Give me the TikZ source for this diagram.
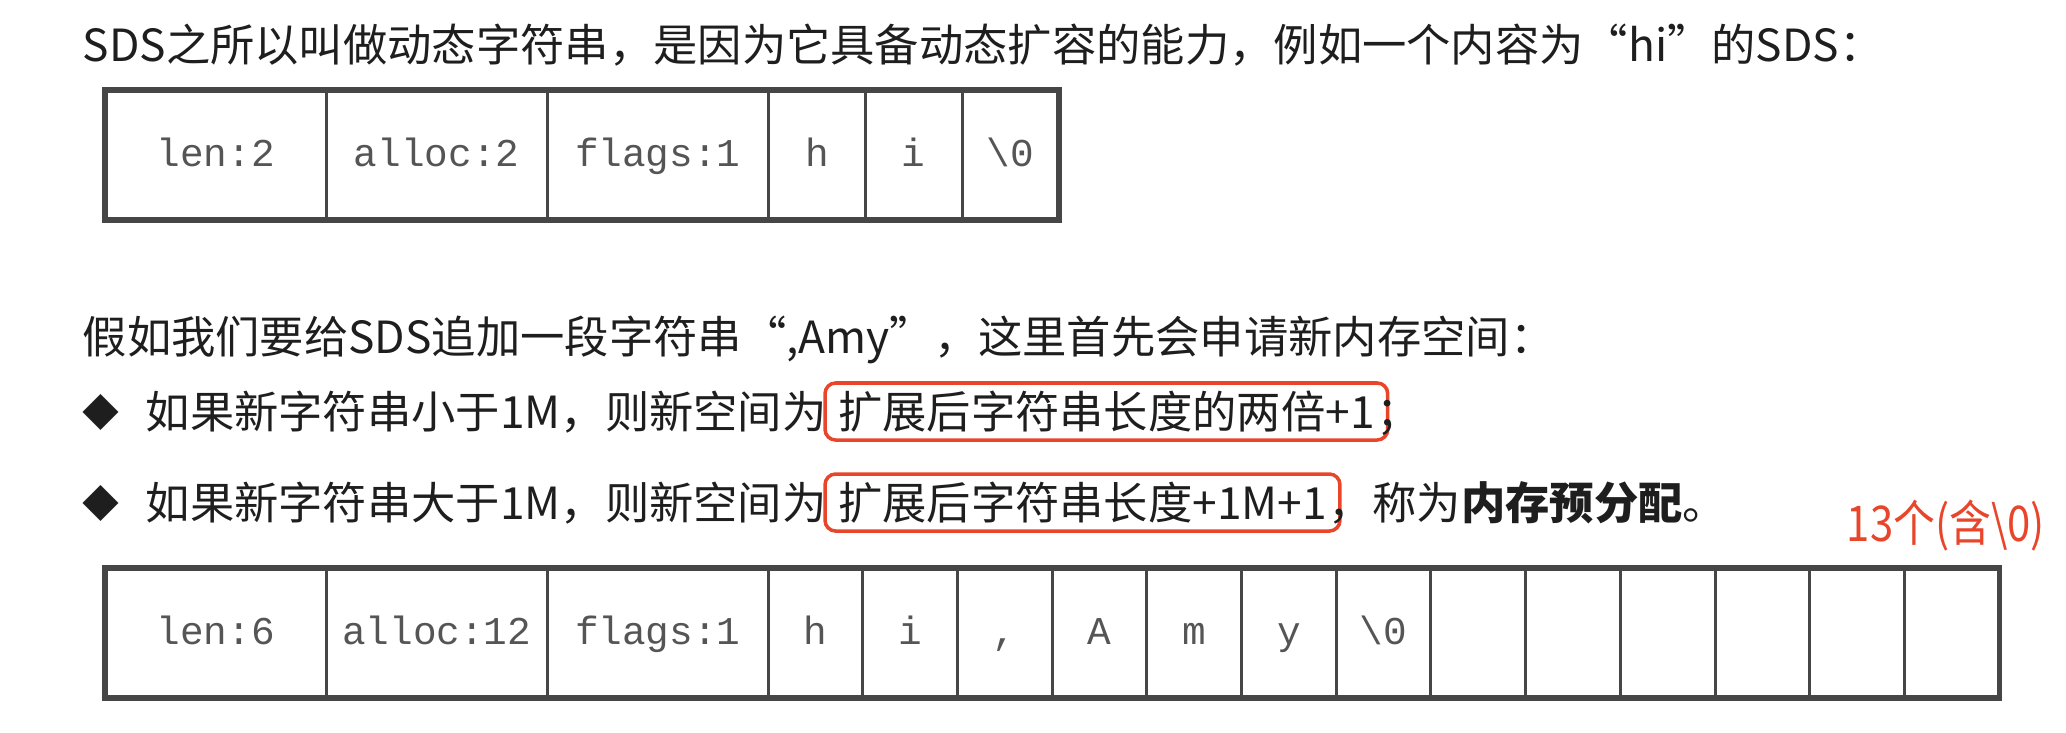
\documentclass[tikz,border=0pt]{standalone}
\usepackage{fontspec}
\setmainfont{Noto Sans CJK SC}
\newfontfamily\cellfont{Liberation Mono}
\usepackage{tikz}
\usetikzlibrary{positioning}

\definecolor{inkgray}{HTML}{1E1E1E}
\definecolor{linegray}{HTML}{464646}
\definecolor{cellgray}{HTML}{555555}
\definecolor{markred}{HTML}{E8452A}

\begin{document}
\begin{tikzpicture}[x=0.01cm,y=-0.01cm,
  para/.style={inner sep=0pt,text=inkgray,font=\fontsize{12.6pt}{15pt}\selectfont},
  fieldcell/.style={draw=linegray,line width=0.85pt,outer sep=0pt,inner sep=0pt,
    minimum width=2.21cm,minimum height=1.3cm,anchor=north west,text=cellgray,
    font=\cellfont\fontsize{11.2pt}{13pt}\selectfont,text height=1.6ex,text depth=0.4ex},
  charcell/.style={fieldcell,minimum width=0.947cm},
  frame/.style={draw=linegray,line width=1.5pt},
  keybox/.style={para,draw=markred,line width=1pt,rounded corners=3pt,
    inner xsep=0.13cm,minimum height=0.57cm,anchor=base west,xshift=-0.04cm}]
\useasboundingbox (0,0) rectangle (2066,732);
% first paragraph and the "hi" record
\node[para,anchor=west] (intro) at (82,45)
  {SDS之所以叫做动态字符串，是因为它具备动态扩容的能力，例如一个内容为“hi”的SDS：};
\node[fieldcell] (tlen) at (105,90) {len:2};
\node[fieldcell,right=0pt of tlen] (talloc) {alloc:2};
\node[fieldcell,right=0pt of talloc] (tflags) {flags:1};
\node[charcell,minimum width=0.968cm,right=0pt of tflags] (tch1) {h};
\node[charcell,minimum width=0.968cm,right=0pt of tch1] (tch2) {i};
\node[charcell,minimum width=0.968cm,right=0pt of tch2] (tch3) {\textbackslash 0};
\draw[frame] (tlen.north west) rectangle (tch3.south east);

% second paragraph and the two rules
\node[para,anchor=west] (append) at (82,340)
  {假如我们要给SDS追加一段字符串“,Amy”，这里首先会申请新内存空间：};
\node[para,font=\fontsize{10.5pt}{12pt}\selectfont] (dot1) at (101,412) {◆};
\node[para,anchor=west] (rule1) at (145,412) {如果新字符串小于1M，则新空间为};
\node[keybox] (key1) at (rule1.base east) {扩展后字符串长度的两倍+1};
\node[para,anchor=base west,xshift=-4pt] (end1) at (key1.base east) {；};
\node[para,font=\fontsize{10.5pt}{12pt}\selectfont] (dot2) at (101,503) {◆};
\node[para,anchor=west] (rule2) at (145,503) {如果新字符串大于1M，则新空间为};
\node[keybox] (key2) at (rule2.base east) {扩展后字符串长度+1M+1};
\node[para,anchor=base west,xshift=-4pt] (end2) at (key2.base east)
  {，称为\textbf{内存预分配}。};
\node[inner sep=0pt,xscale=0.85,text=markred,font=\fontsize{14pt}{16pt}\selectfont] (note)
  at (1946,526) {13个(含\textbackslash 0)};

% the record after appending ",Amy"
\node[fieldcell] (blen) at (105,568) {len:6};
\node[fieldcell,right=0pt of blen] (balloc) {alloc:12};
\node[fieldcell,right=0pt of balloc] (bflags) {flags:1};
\foreach \c [count=\i] in {h,i,{,},A,m,y,{\textbackslash 0},{},{},{},{},{},{}}
  \node[charcell] (bch\i) at ({768+(\i-1)*94.7},568) {\c};
\draw[frame] (blen.north west) rectangle (bch13.south east);
\end{tikzpicture}
\end{document}
